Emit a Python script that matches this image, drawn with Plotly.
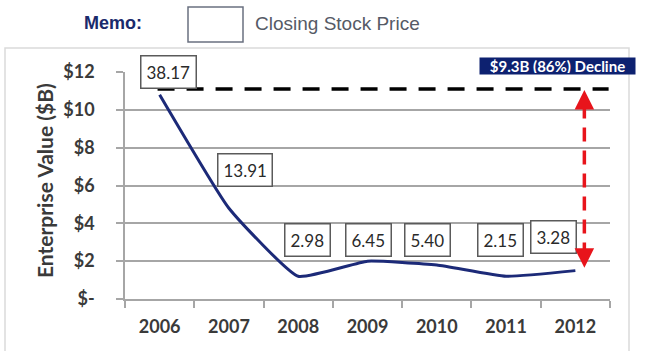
import plotly.graph_objects as go

# Enterprise value ($B) by year, with the memo closing stock prices
years = ["2006", "2007", "2008", "2009", "2010", "2011", "2012"]
enterprise_value = [10.8, 4.8, 1.2, 2.0, 1.8, 1.2, 1.5]
stock_price_labels = ["38.17", "13.91", "2.98", "6.45", "5.40", "2.15", "3.28"]
y_tick_values = [0, 2, 4, 6, 8, 10, 12]
y_tick_labels = ["$-", "$2", "$4", "$6", "$8", "$10", "$12"]
decline_text = "$9.3B (86%) Decline"
peak_level = 11.1

# placement of the stock price boxes (y in axis units, x offset in px)
label_y = [12.0, 6.8, 3.1, 3.1, 3.1, 3.1, 3.3]
label_dx = [9, 16, 9, 1, -9, -6, -22]

NAVY = "#1c2a78"
GRID = "#a6a6a6"
TXT = "#3a3a3a"
BASE_FONT = "Lato, Carlito, Calibri, sans-serif"
SANS_FONT = "Liberation Sans, Arial, sans-serif"


def px_x(px):
    """Horizontal pixel -> paper fraction of the plot area."""
    return (px - 125) / 485


def px_y(px):
    """Vertical pixel -> paper fraction of the plot area."""
    return (299 - px) / 227


fig = go.Figure()
fig.add_trace(go.Scatter(
    x=years, y=enterprise_value, mode="lines",
    line=dict(color=NAVY, width=3, shape="spline", smoothing=0.4),
    hoverinfo="skip", showlegend=False,
))

# stock price boxes
for i, txt in enumerate(stock_price_labels):
    fig.add_annotation(
        x=i, y=label_y[i], xref="x", yref="y", text=txt,
        xanchor="center", yanchor="middle",
        showarrow=False, xshift=label_dx[i],
        font=dict(family=BASE_FONT, size=17, color="#2a2a2a"),
        bgcolor="white", bordercolor="#5a5a5a", borderwidth=1.5, borderpad=5,
    )

# peak reference line
fig.add_shape(type="line", xref="x", yref="y", x0=-0.03, x1=6.48,
              y0=peak_level, y1=peak_level,
              line=dict(color="black", width=3.5, dash="17px,12px"), layer="above")

# decline arrow (dashed shaft + two heads)
arrow_x = 6.13
arrow_bottom = enterprise_value[-1] + 0.15
fig.add_shape(type="line", xref="x", yref="y", x0=arrow_x, x1=arrow_x,
              y0=arrow_bottom + 0.6, y1=peak_level - 0.6,
              line=dict(color="#e8141b", width=3.5, dash="14px,9px"), layer="above")
for tip, off in [(peak_level - 0.05, 16), (arrow_bottom, -16)]:
    fig.add_annotation(x=arrow_x, y=tip, xref="x", yref="y", text="",
                       showarrow=True, ax=0, ay=off, arrowhead=2, arrowsize=1.3,
                       arrowwidth=3, arrowcolor="#e8141b")

# decline callout
fig.add_annotation(x=px_x(557), y=px_y(66), xref="paper", yref="paper",
                   xanchor="center", yanchor="middle",
                   text="<b>" + decline_text + "</b>", showarrow=False,
                   font=dict(family=BASE_FONT, size=15, color="white"),
                   bgcolor="#0d2170", width=153, height=14, borderpad=1)

# y-axis title
fig.add_annotation(x=px_x(44), y=px_y(181), xref="paper", yref="paper",
                   xanchor="center", yanchor="middle",
                   text="<b>Enterprise Value ($B)</b>", textangle=-90, showarrow=False,
                   font=dict(family=BASE_FONT, size=21, color=TXT))

# memo header
fig.add_annotation(x=px_x(113), y=px_y(23), xref="paper", yref="paper",
                   xanchor="center", yanchor="middle",
                   text="<b>Memo:</b>", showarrow=False,
                   font=dict(family=SANS_FONT, size=18, color="#1a2a6c"))
fig.add_shape(type="rect", xref="paper", yref="paper",
              x0=px_x(188), x1=px_x(243), y0=px_y(42), y1=px_y(7),
              line=dict(color="#6a7080", width=1.5), fillcolor="white")
fig.add_annotation(x=px_x(253), y=px_y(23), xref="paper", yref="paper",
                   xanchor="left", yanchor="middle",
                   text="Closing Stock Price", showarrow=False,
                   font=dict(family=SANS_FONT, size=19, color="#555a66"))

# outer chart frame
fig.add_shape(type="rect", xref="paper", yref="paper",
              x0=px_x(5), x1=px_x(629), y0=px_y(360), y1=px_y(48),
              line=dict(color="#dadada", width=1.5), fillcolor="rgba(0,0,0,0)", layer="below")

fig.update_xaxes(
    type="category", range=[-0.5, 6.5], tickson="boundaries",
    showline=True, linecolor=GRID, linewidth=1.5,
    ticks="outside", ticklen=7, tickcolor=GRID, tickwidth=1.5,
    showgrid=False, ticklabelstandoff=11,
    tickfont=dict(family=BASE_FONT, size=18, color=TXT, weight="bold"),
)
fig.update_yaxes(
    range=[0, 12], tickvals=y_tick_values, ticktext=y_tick_labels,
    showline=True, linecolor=GRID, linewidth=1.5,
    ticks="outside", ticklen=7, tickcolor=GRID, tickwidth=1.5,
    showgrid=True, gridcolor=GRID, gridwidth=1.5, zeroline=False,
    ticklabelstandoff=18,
    tickfont=dict(family=BASE_FONT, size=18, color=TXT, weight="bold"),
)
fig.update_layout(
    width=650, height=351,
    margin=dict(l=125, r=40, t=72, b=52),
    paper_bgcolor="white", plot_bgcolor="white",
    showlegend=False,
)
fig.write_html("out.html")
